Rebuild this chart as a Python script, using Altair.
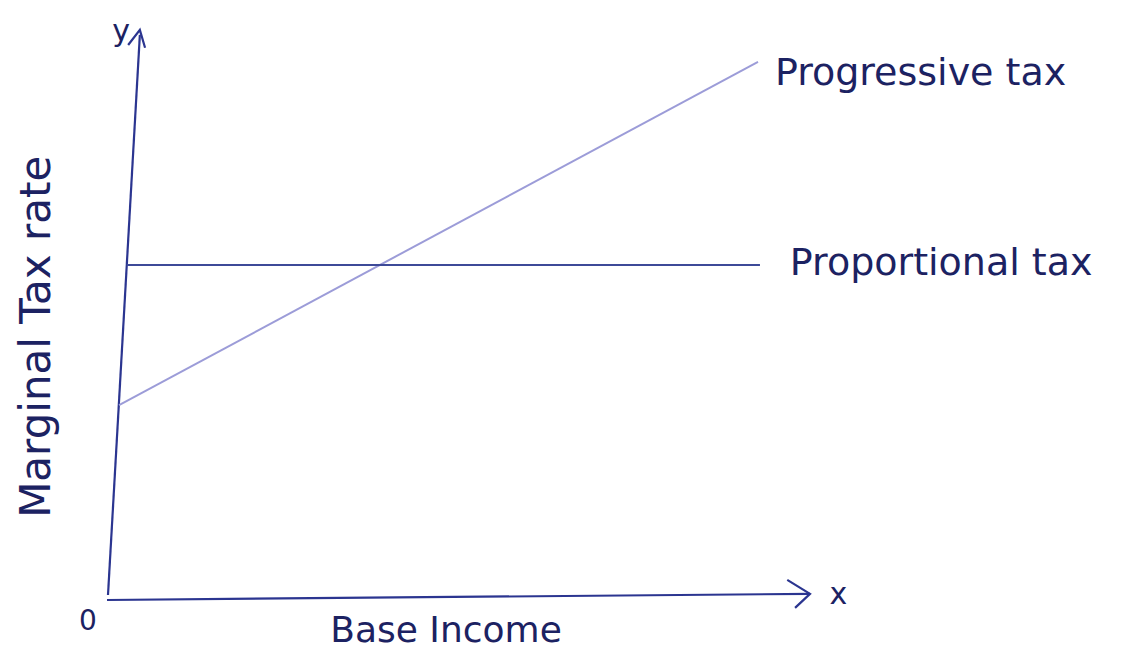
import altair as alt
import pandas as pd

# Hand-drawn sketch values (income units 0..100, rate units 0..100)
series = ["y-axis", "y-axis", "x-axis", "x-axis",
          "Progressive tax", "Progressive tax",
          "Proportional tax", "Proportional tax",
          "y-arrow", "y-arrow", "y-arrow",
          "x-arrow", "x-arrow", "x-arrow"]
order = [0, 1, 0, 1, 0, 1, 0, 1, 0, 1, 2, 0, 1, 2]
income = [0.0, 4.9, -0.15, 108.0,
          1.7, 100.0,
          2.9, 100.3,
          3.1, 4.9, 5.7,
          104.5, 108.0, 105.7]
rate = [0.9, 100.9, 0.0, 1.1,
        34.8, 96.1,
        59.8, 59.8,
        99.1, 101.8, 98.6,
        3.6, 1.1, -1.4]

label_text = ["y", "x", "0", "Progressive tax", "Proportional tax", "Base Income"]
label_income = [2.0, 111.0, -3.1, 102.6, 104.9, 52.0]
label_rate = [101.5, 0.9, -3.9, 94.0, 60.0, -5.5]
label_size = [30, 30, 28, 38, 38, 36]
label_align = ["center", "left", "center", "left", "left", "center"]

ylabel_text = ["Marginal Tax rate"]
ylabel_income = [-11.0]
ylabel_rate = [47.0]

colors = {
    "y-axis": "#2b3590", "x-axis": "#2b3590",
    "y-arrow": "#2b3590", "x-arrow": "#2b3590",
    "Progressive tax": "#9c9cd8", "Proportional tax": "#3d4a98",
}

lines = pd.DataFrame({"series": series, "order": order, "income": income, "rate": rate})
labels = pd.DataFrame({"text": label_text, "income": label_income, "rate": label_rate,
                       "size": label_size, "align": label_align})
ylab = pd.DataFrame({"text": ylabel_text, "income": ylabel_income, "rate": ylabel_rate})

xs = alt.Scale(domain=[-15.385, 156.46], nice=False, zero=False)
ys = alt.Scale(domain=[-9.286, 105.71], nice=False, zero=False)

layers = []
for s, c in colors.items():
    d = lines[lines["series"] == s]
    layers.append(
        alt.Chart(d).mark_line(color=c, strokeWidth=2.2 if "arrow" in s or "axis" in s else 2)
        .encode(x=alt.X("income:Q", scale=xs, axis=None),
                y=alt.Y("rate:Q", scale=ys, axis=None),
                order="order:Q")
    )

for al in ["left", "center"]:
    d = labels[labels["align"] == al]
    layers.append(
        alt.Chart(d).mark_text(align=al, baseline="middle", font="DejaVu Sans",
                               color="#1c2262")
        .encode(x=alt.X("income:Q", scale=xs, axis=None),
                y=alt.Y("rate:Q", scale=ys, axis=None),
                text="text:N",
                size=alt.Size("size:Q", scale=None, legend=None))
    )

layers.append(
    alt.Chart(ylab).mark_text(align="center", baseline="middle", font="DejaVu Sans",
                              color="#1c2262", fontSize=42, angle=270)
    .encode(x=alt.X("income:Q", scale=xs, axis=None),
            y=alt.Y("rate:Q", scale=ys, axis=None),
            text="text:N")
)

chart = alt.layer(*layers).properties(
    width=1117, height=644, padding=0, autosize=alt.AutoSizeParams(type="none"),
    background="white"
).configure_view(stroke=None)

chart.save("out.html", embed_options={"renderer": "svg", "actions": False})
